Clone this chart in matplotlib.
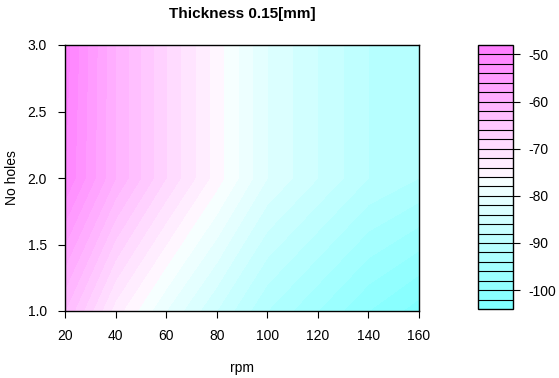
import colorsys
import numpy as np
import matplotlib
matplotlib.use('Agg')
import matplotlib.pyplot as plt

plt.rcParams['font.family'] = ['Liberation Sans', 'DejaVu Sans']

# grid
rpm = [20, 40, 60, 80, 100, 120, 140, 160]
holes = [1, 2, 3]
# one row per number of holes (1, 2, 3)
level_1 = [-62, -73, -80, -86, -92, -96, -100, -103]
level_2 = [-50, -60, -68, -75, -82, -86, -90, -92]
level_3 = [-49, -60, -68, -75, -82, -86, -90, -92]
cbar_ticks = [-50, -60, -70, -80, -90, -100]


def cm_colors(n):
    # same palette as R's cm.colors()
    even = n % 2 == 0
    k = n // 2
    l1 = k + 1 - int(even)
    l2 = n - k + int(even)
    cols = []
    for s in np.linspace(0.5, 0.5 / k if even else 0, l1):
        cols.append(colorsys.hsv_to_rgb(6 / 12, s, 1))
    for s in np.linspace(0, 0.5, l2)[1:]:
        cols.append(colorsys.hsv_to_rgb(10 / 12, s, 1))
    return cols


Z = np.array([level_1, level_2, level_3])
levels = np.arange(-104, -46, 2)
colors = cm_colors(len(levels) - 1)

fig = plt.figure(figsize=(5.59, 3.78), dpi=100)
ax = fig.add_axes([65 / 559, 1 - 311 / 378, 354 / 559, 266 / 378])
cax = fig.add_axes([478 / 559, 1 - 309 / 378, 35 / 559, 264 / 378])

cs = ax.contourf(rpm, holes, Z, levels=levels, colors=colors)
ax.set_xlim(20, 160)
ax.set_ylim(1, 3)
ax.set_xticks(rpm)
ax.set_yticks([1.0, 1.5, 2.0, 2.5, 3.0])
ax.set_yticklabels(['1.0', '1.5', '2.0', '2.5', '3.0'])
ax.tick_params(direction='out', length=5, labelsize=10, pad=8)
for sp in ax.spines.values():
    sp.set_linewidth(1.0)
ax.set_xlabel('rpm', fontsize=10, va='center')
ax.set_ylabel('No holes', fontsize=10, va='center')
ax.xaxis.set_label_coords(0.5, (311 - 368) / 266)
ax.yaxis.set_label_coords((12 - 65) / 354, 0.5)
fig.text(242 / 559, 1 - 14 / 378, 'Thickness 0.15[mm]', ha='center', va='center',
         fontsize=11, fontweight='bold')

cb = fig.colorbar(cs, cax=cax, drawedges=True)
cb.set_ticks(cbar_ticks)
cb.set_ticklabels([str(t) for t in cbar_ticks])
cb.outline.set_linewidth(1.0)
cb.dividers.set_linewidth(0.8)
cax.tick_params(direction='out', length=5, labelsize=10, pad=6)

fig.savefig('out.png', dpi=100)
